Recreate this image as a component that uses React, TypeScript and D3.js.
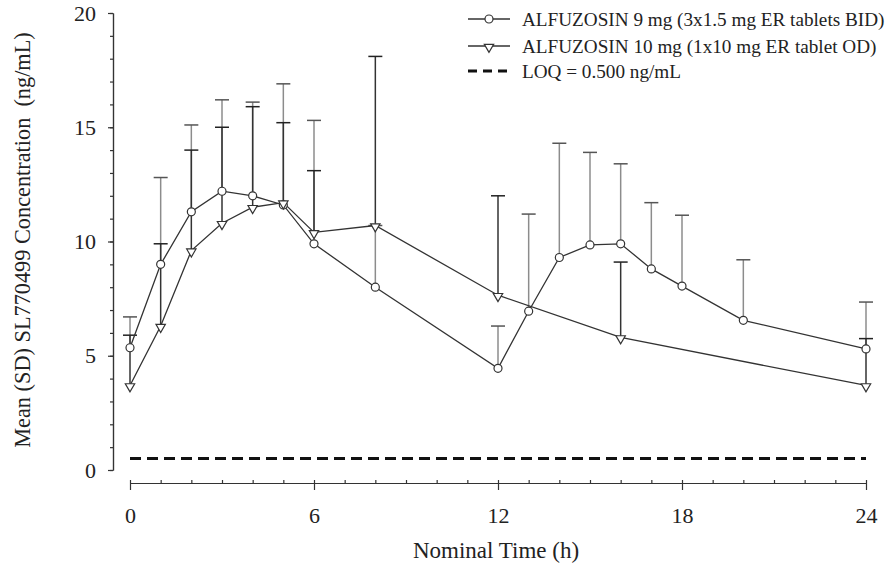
import React, { useRef, useEffect } from 'react';
import * as d3 from 'd3';

// 9 mg BID (circles)
const bidTimes = [0, 1, 2, 3, 4, 5, 6, 8, 12, 13, 14, 15, 16, 17, 18, 20, 24];
const bidMean = [5.35, 9.0, 11.3, 12.2, 12.0, 11.6, 9.9, 8.0, 4.45, 6.95, 9.3, 9.85, 9.9, 8.8, 8.05, 6.55, 5.3];
const bidSD = [1.35, 3.8, 3.8, 4.0, 4.1, 5.3, 5.4, 2.7, 1.85, 4.25, 5.0, 4.05, 3.5, 2.9, 3.1, 2.65, 2.05];

// 10 mg OD (triangles)
const odTimes = [0, 1, 2, 3, 4, 5, 6, 8, 12, 16, 24];
const odMean = [3.7, 6.3, 9.6, 10.8, 11.5, 11.7, 10.4, 10.7, 7.65, 5.8, 3.7];
const odSD = [2.2, 3.6, 4.4, 4.2, 4.4, 3.5, 2.7, 7.4, 4.35, 3.3, 2.05];

const loq = 0.5;
const xTicks = [0, 6, 12, 18, 24];
const yTicks = [0, 5, 10, 15, 20];
const legendLabels = [
  'ALFUZOSIN 9 mg (3x1.5 mg ER tablets BID)',
  'ALFUZOSIN 10 mg (1x10 mg ER tablet OD)',
  'LOQ = 0.500 ng/mL',
];

const W = 893;
const H = 574;
const FONT = '"Liberation Serif", "Times New Roman", Times, serif';

export default function App() {
  const svgRef = useRef<SVGSVGElement>(null);

  useEffect(() => {
    const svg = d3.select(svgRef.current);
    svg.selectAll('*').remove();

    const x = d3.scaleLinear().domain([0, 24]).range([130, 866]);
    const y = d3.scaleLinear().domain([0, 20]).range([470, 13]);
    const yAxisX = 113;
    const xAxisY = 483;

    // y axis: minor + major
    const gy = svg.append('g').attr('transform', `translate(${yAxisX},0)`);
    gy.append('g').call(
      d3.axisLeft(y).tickValues(d3.range(0, 21)).tickSize(3).tickSizeOuter(0).tickFormat(() => '')
    );
    gy.append('g').call(
      d3.axisLeft(y).tickValues(yTicks).tickSize(5).tickSizeOuter(0).tickPadding(12)
    );

    // x axis: major down, minor up
    const gx = svg.append('g').attr('transform', `translate(0,${xAxisY})`);
    gx.append('g').call(
      d3.axisTop(x).tickValues(d3.range(0, 25)).tickSize(3).tickSizeOuter(0).tickFormat(() => '')
    );
    gx.append('g').call(
      d3.axisBottom(x).tickValues(xTicks).tickSize(7).tickSizeOuter(0).tickPadding(17)
    );

    svg.selectAll('.domain, .tick line').attr('stroke', '#333').attr('stroke-width', 1.2);
    svg.selectAll('.tick text')
      .attr('font-family', FONT)
      .attr('font-size', 22)
      .attr('fill', '#222');

    // axis titles
    svg.append('text')
      .attr('x', 496).attr('y', 558)
      .attr('text-anchor', 'middle')
      .attr('font-family', FONT).attr('font-size', 23).attr('fill', '#222')
      .text('Nominal Time (h)');

    svg.append('text')
      .attr('transform', 'translate(30,240) rotate(-90)')
      .attr('text-anchor', 'middle')
      .attr('font-family', FONT).attr('font-size', 22.3).attr('fill', '#222')
      .attr('xml:space', 'preserve')
      .style('white-space', 'pre')
      .text('Mean (SD) SL770499 Concentration  (ng/mL)');

    // LOQ line
    svg.append('line')
      .attr('x1', x(0)).attr('x2', x(24))
      .attr('y1', y(loq)).attr('y2', y(loq))
      .attr('stroke', '#111').attr('stroke-width', 3)
      .attr('stroke-dasharray', '11,6');

    const bid = bidTimes.map((t, i) => ({ t, m: bidMean[i], sd: bidSD[i] }));
    const od = odTimes.map((t, i) => ({ t, m: odMean[i], sd: odSD[i] }));

    const drawBars = (data: { t: number; m: number; sd: number }[], barColor: string, capColor: string) => {
      const g = svg.append('g');
      data.forEach((d) => {
        g.append('line')
          .attr('x1', x(d.t)).attr('x2', x(d.t))
          .attr('y1', y(d.m)).attr('y2', y(d.m + d.sd))
          .attr('stroke', barColor).attr('stroke-width', 1.5);
        g.append('line')
          .attr('x1', x(d.t) - 7).attr('x2', x(d.t) + 7)
          .attr('y1', y(d.m + d.sd)).attr('y2', y(d.m + d.sd))
          .attr('stroke', capColor).attr('stroke-width', 1.5);
      });
    };
    drawBars(bid, '#8c8c8c', '#555');
    drawBars(od, '#333', '#222');

    const lineGen = d3.line<{ t: number; m: number }>()
      .x((d) => x(d.t))
      .y((d) => y(d.m));

    [bid, od].forEach((data) => {
      svg.append('path')
        .datum(data)
        .attr('d', lineGen)
        .attr('fill', 'none')
        .attr('stroke', '#333')
        .attr('stroke-width', 1.3);
    });

    const tri = d3.symbol().type(d3.symbolTriangle).size(38)();

    svg.append('g').selectAll('circle')
      .data(bid)
      .join('circle')
      .attr('cx', (d) => x(d.t))
      .attr('cy', (d) => y(d.m))
      .attr('r', 4)
      .attr('fill', '#fff')
      .attr('stroke', '#333')
      .attr('stroke-width', 1.2);

    svg.append('g').selectAll('path')
      .data(od)
      .join('path')
      .attr('d', tri)
      .attr('transform', (d) => `translate(${x(d.t)},${y(d.m) + 1}) rotate(180)`)
      .attr('fill', '#fff')
      .attr('stroke', '#333')
      .attr('stroke-width', 1.2);

    // legend
    const lg = svg.append('g');
    const rowY = [19, 46, 71];
    legendLabels.forEach((label, i) => {
      const ly = rowY[i];
      const line = lg.append('line')
        .attr('x1', 468).attr('x2', 510)
        .attr('y1', ly).attr('y2', ly);
      if (i === 2) {
        line.attr('stroke', '#111').attr('stroke-width', 3).attr('stroke-dasharray', '9,6');
      } else {
        line.attr('stroke', '#333').attr('stroke-width', 1.3);
      }
      if (i === 0) {
        lg.append('circle').attr('cx', 489).attr('cy', ly).attr('r', 4)
          .attr('fill', '#fff').attr('stroke', '#333').attr('stroke-width', 1.2);
      } else if (i === 1) {
        lg.append('path').attr('d', tri)
          .attr('transform', `translate(489,${ly + 1}) rotate(180)`)
          .attr('fill', '#fff').attr('stroke', '#333').attr('stroke-width', 1.2);
      }
      lg.append('text')
        .attr('x', 522).attr('y', ly + 7)
        .attr('font-family', FONT).attr('font-size', 19.2).attr('fill', '#222')
        .text(label);
    });
  }, []);

  return (
    <svg
      ref={svgRef}
      width={W}
      height={H}
      style={{ position: 'absolute', left: 0, top: 0, background: '#fff' }}
    />
  );
}
